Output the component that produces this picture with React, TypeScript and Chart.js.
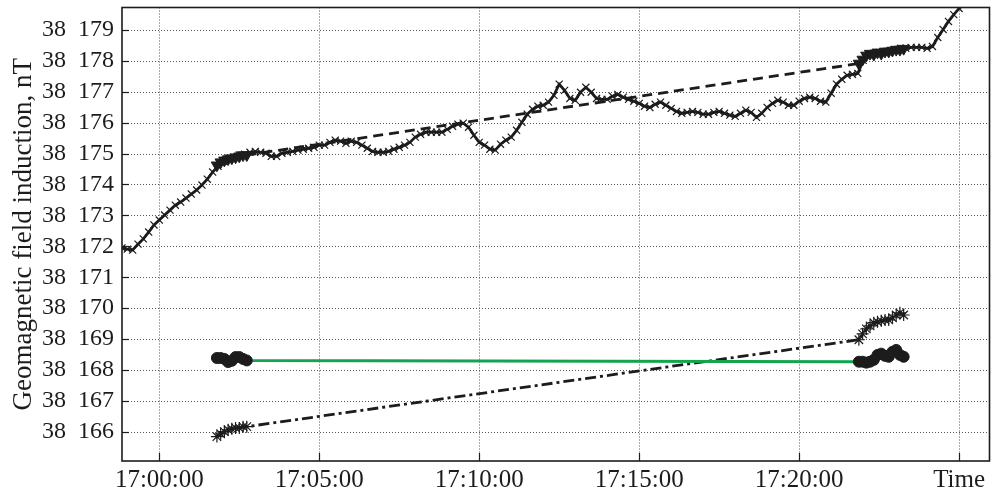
import React, { useEffect, useRef } from 'react';
import { Chart, registerables } from 'chart.js';
Chart.register(...registerables);

// ---- data ----
const mainStart = '16:58:50';
const mainStepSec = 10;
const mainValues = [
  38171.95, 38171.91, 38171.88, 38172.07, 38172.24, 38172.46, 38172.69, 38172.85, 38173.01, 38173.17,
  38173.33, 38173.43, 38173.56, 38173.69, 38173.82, 38173.98, 38174.17, 38174.40, 38174.59, 38174.75,
  38174.85, 38174.88, 38174.95, 38174.98, 38175.04, 38175.07, 38175.04, 38175.01, 38174.91, 38174.91,
  38175.01, 38175.04, 38175.07, 38175.11, 38175.14, 38175.17, 38175.20, 38175.27, 38175.27, 38175.36,
  38175.43, 38175.40, 38175.33, 38175.40, 38175.36, 38175.27, 38175.17, 38175.07, 38175.04, 38175.04,
  38175.07, 38175.14, 38175.20, 38175.27, 38175.36, 38175.53, 38175.62, 38175.69, 38175.69, 38175.69,
  38175.69, 38175.78, 38175.88, 38175.95, 38175.98, 38175.85, 38175.59, 38175.36, 38175.27, 38175.14,
  38175.11, 38175.30, 38175.43, 38175.53, 38175.75, 38176.01, 38176.27, 38176.43, 38176.53, 38176.56,
  38176.66, 38176.88, 38177.24, 38177.04, 38176.78, 38176.72, 38176.98, 38177.14, 38176.98, 38176.78,
  38176.75, 38176.75, 38176.85, 38176.91, 38176.82, 38176.75, 38176.69, 38176.62, 38176.53, 38176.49,
  38176.59, 38176.66, 38176.56, 38176.46, 38176.36, 38176.30, 38176.33, 38176.36, 38176.33, 38176.27,
  38176.27, 38176.33, 38176.36, 38176.30, 38176.24, 38176.20, 38176.30, 38176.40, 38176.33, 38176.17,
  38176.30, 38176.49, 38176.62, 38176.72, 38176.66, 38176.56, 38176.56, 38176.69, 38176.78, 38176.82,
  38176.78, 38176.69, 38176.66, 38176.95, 38177.24, 38177.40, 38177.53, 38177.56, 38177.59, 38178.01,
  38178.20, 38178.24, 38178.27, 38178.27, 38178.30, 38178.33, 38178.40, 38178.40, 38178.43, 38178.43,
  38178.43, 38178.40, 38178.46, 38178.75, 38179.01, 38179.27, 38179.49, 38179.69, 38179.85, 38180.01,
];

const leftTimes = ['17:01:48', '17:01:55', '17:02:02', '17:02:09', '17:02:16', '17:02:23', '17:02:30', '17:02:37', '17:02:44'];
const rightTimes = ['17:21:52', '17:21:59', '17:22:06', '17:22:13', '17:22:20', '17:22:27', '17:22:34', '17:22:41', '17:22:48', '17:22:55', '17:23:02', '17:23:09', '17:23:16'];

const triangleLeft = [38174.62, 38174.72, 38174.78, 38174.82, 38174.85, 38174.88, 38174.91, 38174.95, 38174.95];
const triangleRight = [38177.91, 38178.04, 38178.17, 38178.23, 38178.20, 38178.27, 38178.23, 38178.30, 38178.30, 38178.33, 38178.36, 38178.36, 38178.39];

const circleLeft = [38168.39, 38168.39, 38168.36, 38168.26, 38168.30, 38168.42, 38168.42, 38168.36, 38168.31];
const circleRight = [38168.27, 38168.27, 38168.24, 38168.27, 38168.33, 38168.49, 38168.53, 38168.46, 38168.43, 38168.59, 38168.65, 38168.49, 38168.43];

const starLeft = [38165.85, 38165.94, 38166.01, 38166.07, 38166.10, 38166.13, 38166.13, 38166.17, 38166.17];
const starRight = [38168.98, 38169.17, 38169.33, 38169.43, 38169.53, 38169.56, 38169.59, 38169.62, 38169.62, 38169.69, 38169.78, 38169.85, 38169.78];

const xTickTimes = ['17:00:00', '17:05:00', '17:10:00', '17:15:00', '17:20:00', '17:25:00'];
const xTickLabels = ['17:00:00', '17:05:00', '17:10:00', '17:15:00', '17:20:00', 'Time'];
const yTickValues = [38166, 38167, 38168, 38169, 38170, 38171, 38172, 38173, 38174, 38175, 38176, 38177, 38178, 38179];
const yTickLabels = ['38  166', '38  167', '38  168', '38  169', '38  170', '38  171', '38  172', '38  173', '38  174', '38  175', '38  176', '38  177', '38  178', '38  179'];
const yTitle = 'Geomagnetic field induction, nT';
const xMinTime = '16:58:50';
const xMaxTime = '17:25:57';
const yMin = 38165.06;
const yMax = 38179.72;

// ---- helpers ----
const toSec = (s: string) => {
  const [h, m, sec] = s.split(':').map(Number);
  return h * 3600 + m * 60 + sec - 17 * 3600;
};
const pairs = (times: string[], vals: number[]) => times.map((t, i) => ({ x: toSec(t), y: vals[i] }));

const FONT = "'Liberation Serif', 'Times New Roman', serif";
const INK = '#1c1c1c';

const framePlugin = {
  id: 'frameGrid',
  beforeDatasetsDraw(chart: any) {
    const { ctx, chartArea: a, scales } = chart;
    ctx.save();
    ctx.strokeStyle = '#555';
    ctx.lineWidth = 1;
    ctx.setLineDash([1, 2]);
    xTickTimes.forEach((t) => {
      const px = Math.round(scales.x.getPixelForValue(toSec(t))) + 0.5;
      if (px <= a.left + 1 || px >= a.right - 1) return;
      ctx.beginPath();
      ctx.moveTo(px, a.top);
      ctx.lineTo(px, a.bottom);
      ctx.stroke();
    });
    yTickValues.forEach((v) => {
      const py = Math.round(scales.y.getPixelForValue(v)) + 0.5;
      if (py <= a.top + 1 || py >= a.bottom - 1) return;
      ctx.beginPath();
      ctx.moveTo(a.left, py);
      ctx.lineTo(a.right, py);
      ctx.stroke();
    });
    ctx.restore();
  },
  afterDatasetsDraw(chart: any) {
    const { ctx, chartArea: a, scales } = chart;
    ctx.save();
    ctx.setLineDash([]);
    ctx.strokeStyle = INK;
    ctx.lineWidth = 1.2;
    xTickTimes.forEach((t) => {
      const px = Math.round(scales.x.getPixelForValue(toSec(t))) + 0.5;
      ctx.beginPath();
      ctx.moveTo(px, a.bottom);
      ctx.lineTo(px, a.bottom - 8);
      ctx.stroke();
    });
    yTickValues.forEach((v) => {
      const py = Math.round(scales.y.getPixelForValue(v)) + 0.5;
      ctx.beginPath();
      ctx.moveTo(a.left, py);
      ctx.lineTo(a.left + 7, py);
      ctx.stroke();
    });
    ctx.lineWidth = 1.6;
    ctx.strokeRect(a.left, a.top, a.right - a.left, a.bottom - a.top);
    ctx.restore();
  },
};

export default function App() {
  const ref = useRef<HTMLCanvasElement | null>(null);

  useEffect(() => {
    document.body.style.margin = '0';
    if (!ref.current) return;
    const t0 = toSec(mainStart);
    const mainData = mainValues.map((v, i) => ({ x: t0 + i * mainStepSec, y: v }));

    const chart = new Chart(ref.current, {
      type: 'line',
      data: {
        datasets: [
          {
            label: 'triangles',
            data: [...pairs(leftTimes, triangleLeft), ...pairs(rightTimes, triangleRight)],
            borderColor: INK,
            borderWidth: 2.8,
            borderDash: [10, 6],
            pointStyle: 'triangle',
            rotation: 180,
            pointRadius: 6.5,
            pointBackgroundColor: INK,
            pointBorderColor: INK,
            pointBorderWidth: 1,
            order: 0,
          },
          {
            label: 'main',
            data: mainData,
            borderColor: INK,
            borderWidth: 2.8,
            pointStyle: 'crossRot',
            pointRadius: 5,
            pointBorderColor: INK,
            pointBorderWidth: 1.2,
            order: 1,
          },
          {
            label: 'circles',
            data: [...pairs(leftTimes, circleLeft), ...pairs(rightTimes, circleRight)],
            borderColor: '#14a34f',
            borderWidth: 3,
            pointStyle: 'circle',
            pointRadius: 5.5,
            pointBackgroundColor: INK,
            pointBorderColor: INK,
            pointBorderWidth: 1,
            order: 2,
          },
          {
            label: 'stars',
            data: [...pairs(leftTimes, starLeft), ...pairs(rightTimes, starRight)],
            borderColor: INK,
            borderWidth: 2.8,
            borderDash: [11, 4, 3, 4],
            pointStyle: 'star',
            pointRadius: 6,
            pointBorderColor: INK,
            pointBackgroundColor: INK,
            pointBorderWidth: 1.2,
            order: 3,
          },
        ],
      },
      options: {
        responsive: false,
        animation: false,
        events: [],
        layout: { padding: { top: 7, right: 1, left: 0, bottom: 0 } },
        plugins: { legend: { display: false }, tooltip: { enabled: false }, title: { display: false } },
        elements: { line: { tension: 0 } },
        scales: {
          x: {
            type: 'linear',
            min: toSec(xMinTime),
            max: toSec(xMaxTime),
            grid: { display: false, drawTicks: false },
            border: { display: false },
            ticks: {
              autoSkip: false,
              maxRotation: 0,
              padding: 4,
              color: INK,
              font: { family: FONT, size: 25 },
              callback: (_v: any, i: number) => xTickLabels[i],
            },
            afterBuildTicks: (scale: any) => {
              scale.ticks = xTickTimes.map((t) => ({ value: toSec(t) }));
            },
            afterFit: (scale: any) => {
              scale.height = 32;
              scale.paddingLeft = 0;
              scale.paddingRight = 0;
              scale.paddingTop = 0;
              scale.paddingBottom = 0;
            },
          },
          y: {
            type: 'linear',
            min: yMin,
            max: yMax,
            grid: { display: false, drawTicks: false },
            border: { display: false },
            title: {
              display: true,
              text: yTitle,
              color: INK,
              font: { family: FONT, size: 27 },
              padding: { top: 8, bottom: 0 },
            },
            ticks: {
              autoSkip: false,
              padding: 8,
              color: INK,
              font: { family: FONT, size: 24 },
              callback: (_v: any, i: number) => yTickLabels[i],
            },
            afterBuildTicks: (scale: any) => {
              scale.ticks = yTickValues.map((v) => ({ value: v }));
            },
            afterFit: (scale: any) => {
              scale.width = 122;
              scale.paddingLeft = 0;
              scale.paddingRight = 0;
              scale.paddingTop = 0;
              scale.paddingBottom = 0;
            },
          },
        },
      },
      plugins: [framePlugin],
    } as any);

    return () => chart.destroy();
  }, []);

  return (
    <div style={{ width: 997, height: 493 }}>
      <canvas ref={ref} width={997} height={493} style={{ display: 'block' }} />
    </div>
  );
}
